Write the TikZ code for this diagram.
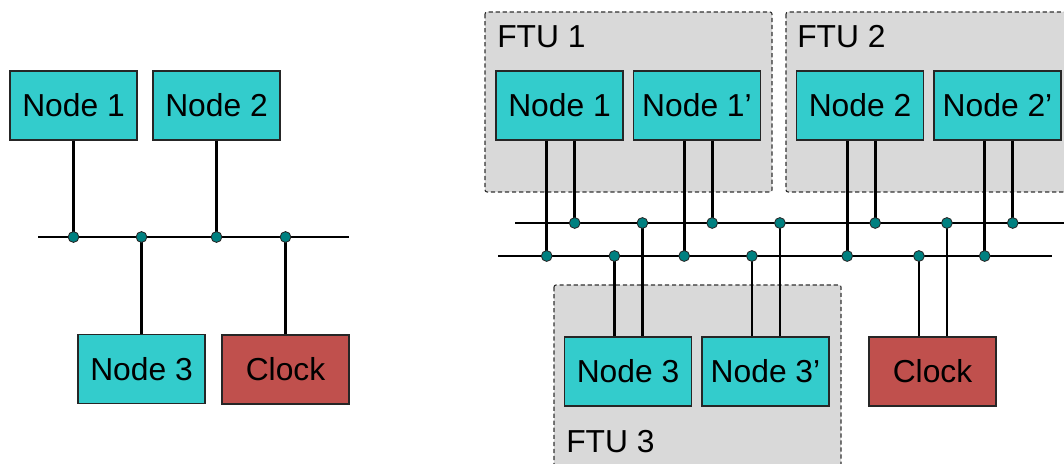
\documentclass[tikz,border=0pt]{standalone}
\usepackage{fontspec}
\setmainfont{Liberation Sans}
\definecolor{nodecyan}{RGB}{51,204,204}
\definecolor{clockred}{RGB}{192,80,77}
\definecolor{dotteal}{RGB}{0,128,128}
\definecolor{ftugray}{RGB}{217,217,217}

\begin{document}
\begin{tikzpicture}[x=0.025cm, y=-0.025cm,
    box/.style={draw=black!85, line width=1pt, minimum width=3.175cm, minimum height=1.725cm, inner sep=0pt, font=\fontsize{22.6}{26}\selectfont},
    unit/.style={box, fill=nodecyan},
    clock/.style={box, fill=clockred},
    junc/.style={circle, draw=black!85, line width=0.6pt, fill=dotteal, minimum size=0.27cm, inner sep=0pt},
    wire/.style={line width=2pt},
    ftu/.style={draw=black!80, fill=ftugray, dash pattern=on 3pt off 2pt, line width=0.8pt, rounded corners=1.5pt},
    ftulabel/.style={anchor=base west, inner sep=0pt, font=\fontsize{22.6}{26}\selectfont}]
    \clip (0,0) rectangle (1064,464);

    % Bus heights
    \def\ybus{237}
    \def\yup{223}
    \def\ydown{256}

    % Left: single bus
    \node[unit] (l1) at (73.5,105.5) {Node 1};
    \node[unit] (l2) at (216.5,105.5) {Node 2};
    \node[unit] (l3) at (141.5,369) {Node 3};
    \node[clock] (lclk) at (285.5,369.5) {Clock};

    \coordinate (lbusW) at (38,\ybus);
    \coordinate (lbusE) at (349,\ybus);
    \draw[wire] (lbusW) -- (lbusE);

    \foreach \n in {l1,l2} {
      \draw[wire] (\n.south) -- (\n.south |- lbusW) node[junc] (j\n) {};
    }
    \foreach \n in {l3,lclk} {
      \draw[wire] (\n.north) -- (\n.north |- lbusW) node[junc] (j\n) {};
    }

    % Right: fault-tolerant units
    \draw[ftu] (485,12) rectangle (772,192);
    \node[ftulabel] (ftu1) at (497,48) {FTU 1};
    \draw[ftu] (786,12) rectangle (1080,192);
    \node[ftulabel] (ftu2) at (797,48) {FTU 2};
    \draw[ftu] (554,285) rectangle (841,480);
    \node[ftulabel] (ftu3) at (566,452) {FTU 3};

    \node[unit] (r1) at (559.5,105.5) {Node 1};
    \node[unit] (r1p) at (697,105.5) {Node 1’};
    \node[unit] (r2) at (860,105.5) {Node 2};
    \node[unit] (r2p) at (997.5,105.5) {Node 2’};
    \node[unit] (r3) at (628,371.5) {Node 3};
    \node[unit] (r3p) at (765.5,371.5) {Node 3’};
    \node[clock] (rclk) at (932.5,371.5) {Clock};

    % Two buses
    \coordinate (ubusW) at (515,\yup);
    \coordinate (ubusE) at (1064,\yup);
    \coordinate (dbusW) at (498,\ydown);
    \coordinate (dbusE) at (1052,\ydown);
    \draw[wire] (ubusW) -- (ubusE);
    \draw[wire] (dbusW) -- (dbusE);

    % Each node: left wire to lower bus, right wire to upper bus
    \foreach \n in {r1,r1p,r2,r2p} {
      \coordinate (\n a) at ([xshift=-0.32cm]\n.south);
      \coordinate (\n b) at ([xshift=0.38cm]\n.south);
      \draw[wire] (\n a) -- (\n a |- dbusW) node[junc] {};
      \draw[wire] (\n b) -- (\n b |- ubusW) node[junc] {};
    }
    \foreach \n in {r3,r3p,rclk} {
      \coordinate (\n a) at ([xshift=-0.34cm]\n.north);
      \coordinate (\n b) at ([xshift=0.36cm]\n.north);
      \draw[wire] (\n a) -- (\n a |- dbusW) node[junc] {};
      \draw[wire] (\n b) -- (\n b |- ubusW) node[junc] {};
    }
  \end{tikzpicture}
\end{document}
